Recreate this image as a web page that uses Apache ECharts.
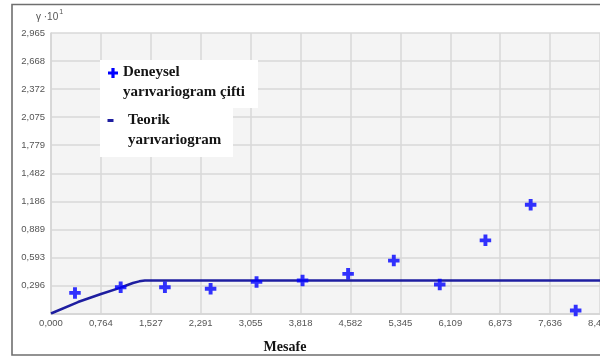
<!DOCTYPE html>
<html>
<head>
<meta charset="utf-8">
<script src="https://cdn.jsdelivr.net/npm/echarts@6/dist/echarts.min.js"></script>
<style>
html,body{margin:0;padding:0;background:#fff;}
#chart{width:600px;height:358px;}
</style>
</head>
<body>
<div id="chart"></div>
<script>
// Experimental semivariogram pairs (distance, gamma x10^1)
const expX = [0.367, 1.066, 1.743, 2.442, 3.145, 3.849, 4.546, 5.245, 5.948, 6.647, 7.339, 8.028];
const expY = [0.218, 0.277, 0.277, 0.261, 0.334, 0.348, 0.419, 0.559, 0.306, 0.773, 1.150, 0.032];
// Theoretical semivariogram
const theoX = [0, 0.413, 0.765, 1.055, 1.150, 1.254, 1.350, 1.437, 8.4];
const theoY = [0, 0.121, 0.206, 0.271, 0.296, 0.322, 0.340, 0.348, 0.348];
// Tick labels
const xLabels = ['0,000','0,764','1,527','2,291','3,055','3,818','4,582','5,345','6,109','6,873','7,636','8,400'];
const yLabels = ['0,000','0,296','0,593','0,889','1,186','1,482','1,779','2,075','2,372','2,668','2,965'];
const xMax = 8.4, xStep = 8.4 / 11;
const yMax = 2.965, yStep = 0.2965;

const chart = echarts.init(document.getElementById('chart'), null, {renderer: 'canvas'});
const plusPath = 'path://M3.3,0H6.7V3.3H10V6.7H6.7V10H3.3V6.7H0V3.3H3.3Z';
const serif = '"Liberation Serif","Times New Roman",serif';
const sans = '"Liberation Sans",Arial,sans-serif';

function plusPoints(cx, cy, s, t) {
  const h = s / 2, w = t / 2;
  return [[cx - w, cy - h], [cx + w, cy - h], [cx + w, cy - w], [cx + h, cy - w], [cx + h, cy + w], [cx + w, cy + w],
          [cx + w, cy + h], [cx - w, cy + h], [cx - w, cy + w], [cx - h, cy + w], [cx - h, cy - w], [cx - w, cy - w]];
}

chart.setOption({
  animation: false,
  backgroundColor: '#ffffff',
  grid: {left: 51, top: 33, right: 0, bottom: 44.5, show: true, backgroundColor: '#f4f4f4', borderWidth: 0,
         containLabel: false, outerBoundsMode: 'none'},
  xAxis: {
    type: 'value', min: 0, max: xMax, interval: xStep,
    axisLine: {show: true, lineStyle: {color: '#d4d4d4', width: 1.5}},
    axisTick: {show: false},
    splitLine: {show: true, lineStyle: {color: '#d8d8d8', width: 1.5}},
    axisLabel: {
      show: true, margin: 5, color: '#555', fontSize: 9.5, fontFamily: sans,
      showMinLabel: true, showMaxLabel: true, hideOverlap: false,
      formatter: v => xLabels[Math.round(v / xStep)]
    }
  },
  yAxis: {
    type: 'value', min: 0, max: yMax, interval: yStep,
    axisLine: {show: true, lineStyle: {color: '#d4d4d4', width: 1.5}},
    axisTick: {show: false},
    splitLine: {show: true, lineStyle: {color: '#d8d8d8', width: 1.5}},
    axisLabel: {
      show: true, margin: 6, color: '#555', fontSize: 9.5, fontFamily: sans,
      showMinLabel: false, showMaxLabel: true,
      formatter: v => yLabels[Math.round(v / yStep)]
    }
  },
  series: [
    {
      type: 'line', name: 'Teorik yarıvariogram',
      data: theoX.map((x, i) => [x, theoY[i]]),
      showSymbol: false, smooth: false,
      lineStyle: {color: '#1e1ea0', width: 2.5},
      z: 2
    },
    {
      type: 'scatter', name: 'Deneysel yarıvariogram çifti',
      data: expX.map((x, i) => [x, expY[i]]),
      symbol: plusPath, symbolSize: 11.5,
      itemStyle: {color: '#0000ff'},
      z: 3
    }
  ],
  graphic: [
    {type: 'rect', shape: {x: 12, y: 4.5, width: 620, height: 350.5}, style: {fill: 'none', stroke: '#6f6f6f', lineWidth: 1.6}, z: 10, silent: true},
    {type: 'text', x: 36, y: 9, style: {
      text: '{a|γ ·10}{b|1}', rich: {
        a: {fontSize: 10, fill: '#555', fontFamily: sans, padding: [3, 0, 0, 0]},
        b: {fontSize: 7, fill: '#555', fontFamily: sans, verticalAlign: 'top', padding: [0, 0, 6, 1]}
      }}, z: 10},
    // legend boxes
    {type: 'rect', shape: {x: 100, y: 60, width: 158, height: 48}, style: {fill: '#ffffff'}, z: 20},
    {type: 'rect', shape: {x: 100, y: 108, width: 133, height: 49}, style: {fill: '#ffffff'}, z: 20},
    {type: 'polygon', shape: {points: plusPoints(113, 73, 10, 3.2)}, style: {fill: '#0000ff'}, z: 21},
    {type: 'rect', shape: {x: 107.5, y: 119, width: 6, height: 3}, style: {fill: '#1e1ea0'}, z: 21},
    {type: 'text', x: 123, y: 62, style: {text: 'Deneysel\nyarıvariogram çifti', font: 'bold 15px ' + serif, fill: '#141414', lineHeight: 20}, z: 21},
    {type: 'text', x: 128, y: 110, style: {text: 'Teorik\nyarıvariogram', font: 'bold 15px ' + serif, fill: '#141414', lineHeight: 20}, z: 21},
    {type: 'text', x: 285, y: 347, style: {text: 'Mesafe', font: 'bold 14px ' + serif, fill: '#111', align: 'center', verticalAlign: 'middle'}, z: 10}
  ]
});
</script>
</body>
</html>
